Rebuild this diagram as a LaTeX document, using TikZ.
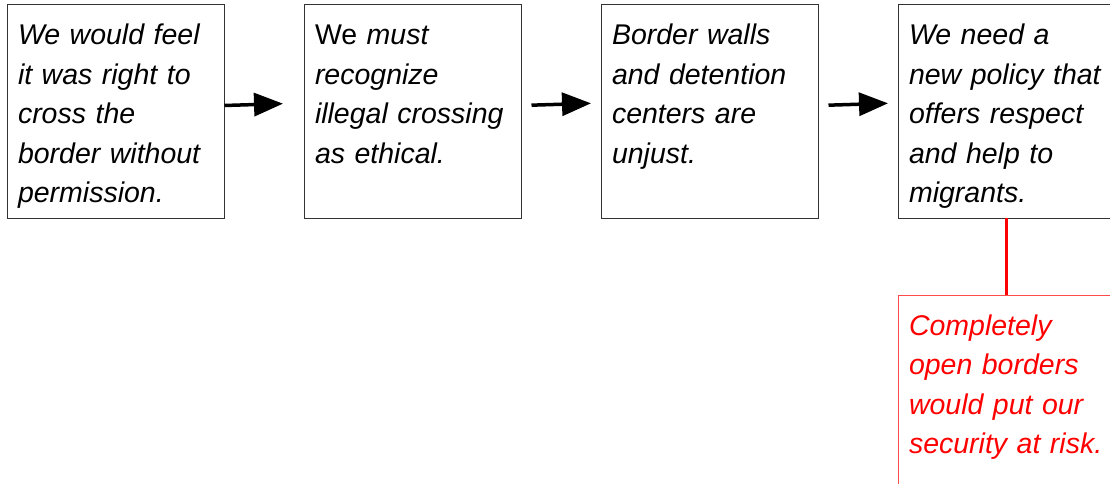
\documentclass[tikz,border=0pt]{standalone}
\usepackage{fontspec}
\setmainfont{Liberation Sans}
\usetikzlibrary{
    arrows.meta,
    positioning,
    calc
}

\tikzset{
    claim/.style={draw=black!80, line width=1pt, anchor=north west,
        text width=195.5pt, align=left, inner xsep=11pt, inner ysep=0pt,
        outer sep=0pt, text height=40pt, text depth=173pt,
        font=\fontsize{28.5pt}{39.5pt}\selectfont\itshape},
    objection/.style={claim, draw=red!70, text=red},
    flow/.style={line width=3.5pt, -{Triangle[length=29pt, width=23pt]}},
    link/.style={red, line width=3pt}
}

\begin{document}
\begin{tikzpicture}[node distance=79.5pt]
        \useasboundingbox (0, 0) rectangle (1110pt, -484pt);
        \clip (0, 0) rectangle (1110pt, -484pt);
        \node[claim] at (7pt, -5pt) (feel) {We would feel\\it was right to\\cross the\\border without\\permission.};
        \node[claim, right=of feel] (ethic) {{\upshape We} must\\recognize\\illegal crossing\\as ethical.};
        \node[claim, right=of ethic] (walls) {Border walls\\and detention\\centers are\\unjust.};
        \node[claim, right=of walls] (policy) {We need a\\new policy that\\offers respect\\and help to\\migrants.};
        \node[objection, below=77pt of policy] (risk) {Completely\\open borders\\would put our\\security at risk.};
        \draw[flow, shorten >=21pt] ([yshift=6pt]feel.east) -- ([yshift=8.5pt]ethic.west);
        \draw[flow, shorten <=10pt, shorten >=10pt] ([yshift=6pt]ethic.east) -- ([yshift=8.5pt]walls.west);
        \draw[flow, shorten <=10pt, shorten >=10pt] ([yshift=6pt]walls.east) -- ([yshift=8.5pt]policy.west);
        \draw[link] (policy.south) -- (risk.north);
    \end{tikzpicture}
\end{document}
